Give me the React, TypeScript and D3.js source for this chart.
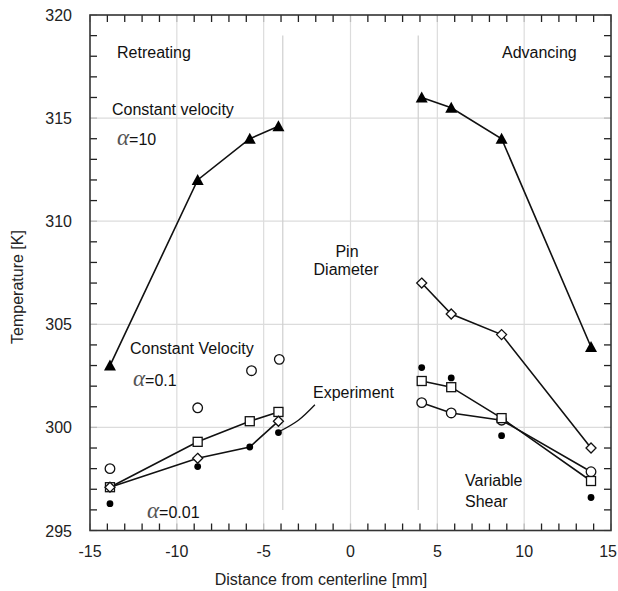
import React from "react";
import * as d3 from "d3";

// ---- data ----
const xTickValues = [-15, -10, -5, 0, 5, 10, 15];
const yTickValues = [295, 300, 305, 310, 315, 320];
const xGrid = [-10, -5, 0, 5, 10];
const yGrid = [300, 305, 310, 315];
const pinEdges = [-3.9, 3.9];

const leftX = [-13.85, -8.8, -5.8, -4.15];
const rightX = [4.1, 5.8, 8.7, 13.85];

// Constant velocity alpha=10 (filled triangles)
const triLeftY = [303.0, 312.0, 314.0, 314.6];
const triRightY = [316.0, 315.5, 314.0, 303.9];
// diamonds
const diaLeftY = [297.1, 298.5, 299.05, 300.3];
const diaLeftMarked = [true, true, false, true];
const diaRightY = [307.0, 305.5, 304.5, 299.0];
// squares
const sqLeftY = [297.1, 299.3, 300.3, 300.75];
const sqRightY = [302.25, 301.95, 300.45, 297.4];
// open circles
const openLeftX = [-13.85, -8.8, -5.7, -4.1];
const openLeftY = [298.0, 300.95, 302.75, 303.3];
const openRightY = [301.2, 300.7, 300.35, 297.85];
// experiment (filled circles)
const expLeftY = [296.3, 298.1, 299.05, 299.75];
const expRightY = [302.9, 302.4, 299.6, 296.6];
// experiment leader
const leaderX = [-4.1, -3.0, -2.05];
const leaderY = [299.8, 300.35, 301.1];

const W = 618;
const H = 591;
const FONT = "'Liberation Sans', Arial, sans-serif";

const x = d3.scaleLinear().domain([-15, 15]).range([90, 611]);
const y = d3.scaleLinear().domain([295, 320]).range([530.5, 15]);

const lineOf = (curve: d3.CurveFactory) =>
  d3
    .line<[number, number]>()
    .x((d) => x(d[0]))
    .y((d) => y(d[1]))
    .curve(curve);
const straight = lineOf(d3.curveLinear);
const leaderLine = lineOf(d3.curveCatmullRom.alpha(0.5));

const zip = (xs: number[], ys: number[]) => xs.map((v, i) => [v, ys[i]] as [number, number]);

const Tri = ({ cx, cy }: { cx: number; cy: number }) => (
  <path d={`M${cx},${cy - 6}L${cx + 6},${cy + 5}L${cx - 6},${cy + 5}Z`} fill="#000" />
);
const Dia = ({ cx, cy }: { cx: number; cy: number }) => (
  <path
    d={`M${cx},${cy - 5}L${cx + 5},${cy}L${cx},${cy + 5}L${cx - 5},${cy}Z`}
    fill="#fff"
    stroke="#111"
    strokeWidth={1.3}
  />
);
const Sq = ({ cx, cy }: { cx: number; cy: number }) => (
  <rect x={cx - 4.5} y={cy - 4.5} width={9} height={9} fill="#fff" stroke="#111" strokeWidth={1.3} />
);
const Circ = ({ cx, cy }: { cx: number; cy: number }) => (
  <circle cx={cx} cy={cy} r={4.8} fill="#fff" stroke="#111" strokeWidth={1.3} />
);
const Dot = ({ cx, cy }: { cx: number; cy: number }) => <circle cx={cx} cy={cy} r={3.4} fill="#000" />;

const Alpha = ({ px, py, rest }: { px: number; py: number; rest: string }) => (
  <text x={px} y={py} fontFamily={FONT} fontSize={16} fill="#111">
    <tspan fontFamily="'Liberation Serif', 'DejaVu Serif', serif" fontStyle="italic" fontSize={23} fill="#555">
      α
    </tspan>
    <tspan>{rest}</tspan>
  </text>
);

export default function App() {
  const [x0, x1] = x.range();
  const [yb, yt] = y.range();
  const minorX = d3.range(-15, 15.01, 1);
  const minorY = d3.range(295, 320.01, 1);
  const tl = 7;
  const lastTick = xTickValues[xTickValues.length - 1];

  return (
    <svg
      width={W}
      height={H}
      style={{ position: "absolute", left: 0, top: 0, background: "#fff" }}
      fontFamily={FONT}
    >
      <rect x={0} y={0} width={W} height={H} fill="#fff" />
      {/* grid */}
      {xGrid.map((v) => (
        <line key={"gx" + v} x1={x(v)} x2={x(v)} y1={yt} y2={yb} stroke="#dcdcdc" strokeWidth={1.2} />
      ))}
      {yGrid.map((v) => (
        <line key={"gy" + v} x1={x0} x2={x1} y1={y(v)} y2={y(v)} stroke="#dcdcdc" strokeWidth={1.2} />
      ))}
      {/* pin diameter lines */}
      {pinEdges.map((v) => (
        <line key={"p" + v} x1={x(v)} x2={x(v)} y1={y(319)} y2={y(296)} stroke="#cfcfcf" strokeWidth={1.2} />
      ))}
      {/* minor ticks */}
      {minorX.map((v) => (
        <g key={"tx" + v} stroke={xTickValues.includes(v) ? "#bbb" : "#222"} strokeWidth={1.3}>
          <line x1={x(v)} x2={x(v)} y1={yb} y2={yb - tl} />
          <line x1={x(v)} x2={x(v)} y1={yt} y2={yt + tl} />
        </g>
      ))}
      {minorY.map((v) => (
        <g key={"ty" + v} stroke={yTickValues.includes(v) ? "#bbb" : "#222"} strokeWidth={1.3}>
          <line x1={x0} x2={x0 + tl} y1={y(v)} y2={y(v)} />
          <line x1={x1} x2={x1 - tl} y1={y(v)} y2={y(v)} />
        </g>
      ))}
      {/* frame */}
      <rect x={x0} y={yt} width={x1 - x0} height={yb - yt} fill="none" stroke="#333" strokeWidth={1.6} />
      {/* tick labels */}
      {xTickValues.map((v) => (
        <text
          key={"lx" + v}
          x={v === lastTick ? W - 1 : x(v)}
          y={557}
          textAnchor={v === lastTick ? "end" : "middle"}
          fontSize={16}
          fill="#222"
        >
          {v}
        </text>
      ))}
      {yTickValues.map((v) => (
        <text key={"ly" + v} x={72} y={y(v) + 6} textAnchor="end" fontSize={16} fill="#222">
          {v}
        </text>
      ))}
      {/* axis titles */}
      <text x={321} y={585} textAnchor="middle" fontSize={16} fill="#222">
        Distance from centerline [mm]
      </text>
      <text transform="translate(23,287) rotate(-90)" textAnchor="middle" fontSize={16} fill="#222">
        Temperature [K]
      </text>

      {/* lines */}
      <g fill="none" stroke="#111" strokeWidth={1.6}>
        <path d={straight(zip(leftX, triLeftY)) || ""} />
        <path d={straight(zip(rightX, triRightY)) || ""} />
        <path d={straight(zip(leftX, diaLeftY)) || ""} />
        <path d={straight(zip(rightX, diaRightY)) || ""} />
        <path d={straight(zip(leftX, sqLeftY)) || ""} />
        <path d={straight(zip(rightX, sqRightY)) || ""} />
        <path d={straight(zip(rightX, openRightY)) || ""} />
        <path d={leaderLine(zip(leaderX, leaderY)) || ""} strokeWidth={1.3} />
      </g>

      {/* markers */}
      {leftX.map((v, i) => (
        <Dot key={"el" + i} cx={x(v)} cy={y(expLeftY[i])} />
      ))}
      {rightX.map((v, i) => (
        <Dot key={"er" + i} cx={x(v)} cy={y(expRightY[i])} />
      ))}
      {openLeftX.map((v, i) => (
        <Circ key={"ol" + i} cx={x(v)} cy={y(openLeftY[i])} />
      ))}
      {rightX.map((v, i) => (
        <Circ key={"or" + i} cx={x(v)} cy={y(openRightY[i])} />
      ))}
      {leftX.map((v, i) => (
        <Sq key={"sl" + i} cx={x(v)} cy={y(sqLeftY[i])} />
      ))}
      {rightX.map((v, i) => (
        <Sq key={"sr" + i} cx={x(v)} cy={y(sqRightY[i])} />
      ))}
      {leftX.map((v, i) =>
        diaLeftMarked[i] ? <Dia key={"dl" + i} cx={x(v)} cy={y(diaLeftY[i])} /> : null
      )}
      {rightX.map((v, i) => (
        <Dia key={"dr" + i} cx={x(v)} cy={y(diaRightY[i])} />
      ))}
      {leftX.map((v, i) => (
        <Tri key={"tl" + i} cx={x(v)} cy={y(triLeftY[i])} />
      ))}
      {rightX.map((v, i) => (
        <Tri key={"tr" + i} cx={x(v)} cy={y(triRightY[i])} />
      ))}

      {/* annotations */}
      <g fontSize={16} fill="#111">
        <text x={117} y={58}>Retreating</text>
        <text x={502} y={58}>Advancing</text>
        <text x={112} y={115}>Constant velocity</text>
        <text x={347} y={257} textAnchor="middle">Pin</text>
        <text x={346} y={275} textAnchor="middle">Diameter</text>
        <text x={130} y={354}>Constant Velocity</text>
        <text x={313} y={398}>Experiment</text>
        <text x={465} y={486}>Variable</text>
        <text x={465} y={507}>Shear</text>
      </g>
      <Alpha px={117} py={145} rest="=10" />
      <Alpha px={133} py={386} rest="=0.1" />
      <Alpha px={147} py={518} rest="=0.01" />
    </svg>
  );
}
